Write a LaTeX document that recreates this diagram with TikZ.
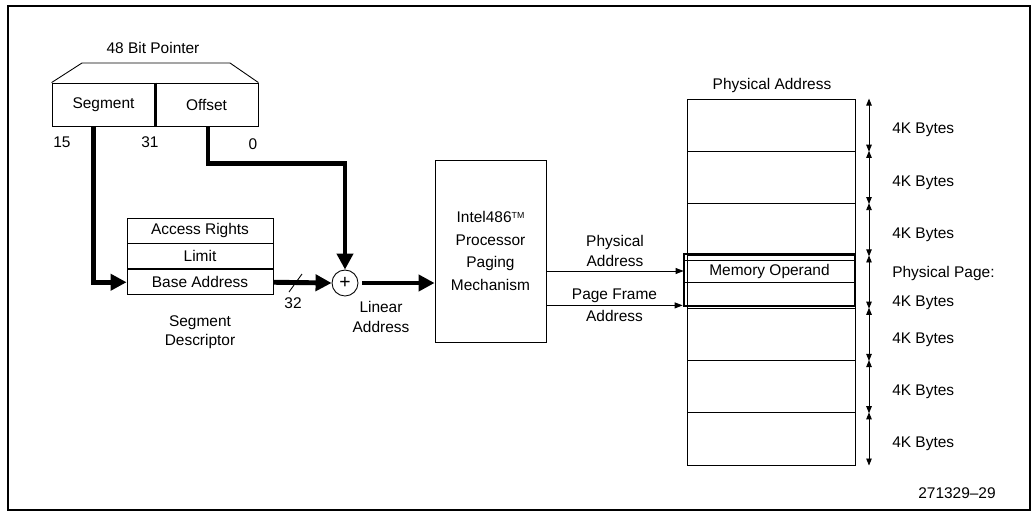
\documentclass[tikz,border=0pt]{standalone}
\usepackage{fontspec}
\setmainfont{Liberation Sans}
\usetikzlibrary{arrows.meta, positioning, calc}

\begin{document}
\begin{tikzpicture}[x=0.02cm, y=-0.02cm, line width=0.5pt,
  font=\fontsize{8.8}{10}\selectfont,
  fat/.style={line width=2.8pt, -{Triangle[length=3.2mm,width=3.2mm]}},
  slim/.style={-{Triangle[length=1.6mm,width=1.2mm]}},
  dim/.style={{Triangle[length=1.4mm,width=1.1mm]}-{Triangle[length=1.4mm,width=1.1mm]}},
  fld/.style={draw, minimum width=2.06cm, minimum height=0.86cm, inner sep=0pt},
  dsc/.style={draw, minimum width=2.92cm, minimum height=0.5cm, inner sep=0pt},
  pg/.style={draw, minimum width=3.36cm, minimum height=1.046cm, inner sep=0pt}]
  \useasboundingbox (0,0) rectangle (1034,514);
  \draw[line width=0.7pt] (8,6) rectangle (1030,510);

  % pointer
  \node (ttl) at (153,48) {48 Bit Pointer};
  \node[fld] (seg) at (103.5,104.5) {Segment};
  \node[fld] (off) at (206.5,104.5) {Offset};
  \draw (seg.north west) -- (82,63) -- (230,63) -- (off.north east);
  \draw[line width=1.5pt] (seg.north east) -- (seg.south east);
  \node (b15) at (62,142) {15};
  \node (b31) at (150,142) {31};
  \node (b0) at (253,144) {0};

  % descriptor
  \node[dsc] (ar) at (200,230.5) {Access Rights};
  \node[dsc, below=0pt of ar] (lim) {Limit};
  \node[dsc, below=0pt of lim] (base) {Base Address};
  \node[align=center, below=0.28cm of base] (sd) {Segment\\[1pt]Descriptor};

  \node[circle, draw, minimum size=0.52cm, inner sep=0pt] (plus) at (345,283) {\fontsize{11}{11}\selectfont +};

  \node[draw, minimum width=2.22cm, minimum height=3.64cm, align=center,
    font=\fontsize{8.8}{13}\selectfont] (mmu) at (490.5,251)
    {Intel486\raisebox{0.5ex}{\fontsize{5}{5}\selectfont TM}\\Processor\\Paging\\Mechanism};

  \draw[fat] ([xshift=-0.2cm]seg.south) |- (base.west);
  \draw[fat] ([xshift=0.03cm]off.south) -- ++(0,37) -| (plus.north);
  \draw[fat] (base.east) -- (plus.west);
  \draw (289,292) -- (302,274);
  \node (w32) at (293,303) {32};
  \draw[fat, shorten <=0.08cm] (plus.east) -- (plus.east -| mmu.west);
  \node[align=center] (lin) at (381,317) {Linear\\[1pt]Address};

  % physical memory
  \node (pa) at (772,85) {Physical Address};
  \foreach \i in {1,...,7}
    \node[pg] (p\i) at (771,{99+52.3*\i-26.15}) {};
  \coordinate (dx) at (869,0);
  \foreach \i in {1,...,7}
    \draw[dim] (p\i.north -| dx) -- (p\i.south -| dx);
  \foreach \i in {1,2,3,5,6,7}
    \node[anchor=west] (k\i) at ([yshift=-0.1cm]p\i.east -| 886,0) {4K Bytes};
  \node[anchor=west, align=left] (k4) at ([yshift=-0.12cm]p4.east -| 886,0)
    {Physical Page:\\[6pt]4K Bytes};

  \node[draw, line width=1.6pt, minimum width=3.42cm, minimum height=1.04cm, inner sep=0pt] (pp) at (769.5,280) {};
  \node[draw, minimum width=3.42cm, minimum height=0.44cm, inner sep=0pt] (mo) at (769.5,271) {Memory Operand};

  \draw[slim] (mo.west -| mmu.east) -- node[above=-1pt, align=center] {Physical\\[1pt]Address} (mo.west);
  \draw[slim] ([yshift=0.04cm]pp.south west -| mmu.east) -- node[above=-2pt] {Page Frame}
    node[below=-1pt] {Address} ([yshift=0.04cm]pp.south west);

  \node (fig) at (957,493) {271329--29};
\end{tikzpicture}
\end{document}
